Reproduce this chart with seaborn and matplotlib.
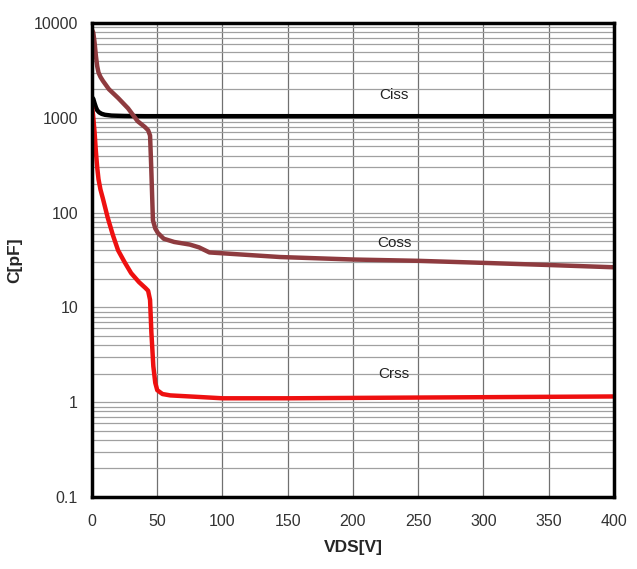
import numpy as np
import pandas as pd
import matplotlib
matplotlib.use("Agg")
import matplotlib.pyplot as plt
import seaborn as sns
from matplotlib.ticker import FixedLocator, NullFormatter, LogLocator

# Data
ciss_v = [0, 1, 2, 3, 4, 5.5, 7.5, 10, 15, 25, 40, 60, 100, 200, 300, 400]
ciss_c = [1650, 1580, 1420, 1290, 1200, 1140, 1100, 1075, 1055, 1045, 1040, 1040, 1040, 1040, 1040, 1040]

coss_v = [0, 1, 2, 3, 4, 5, 6.5, 8.4, 13, 20, 27.6, 35, 40.5, 43, 44.5, 45.4, 46.7, 48.5, 50.5, 55, 63, 75, 82, 90, 144, 200, 250, 300, 350, 400]
coss_c = [8500, 7900, 6200, 4500, 3500, 3000, 2700, 2450, 2000, 1620, 1260, 920, 800, 740, 650, 300, 83, 68, 61, 53, 49, 46, 43, 38, 34, 32, 31, 29.5, 28, 26.5]

crss_v = [0, 0.8, 2, 3, 4, 5, 6.5, 8.4, 12, 16, 20, 25, 30, 36, 41, 43, 44.5, 45.5, 47, 48.5, 50, 54, 60, 80, 100, 150, 200, 250, 300, 350, 400]
crss_c = [1300, 1080, 700, 440, 300, 225, 175, 140, 89, 58, 40, 30, 23, 18.5, 16, 15, 12, 5.5, 2.4, 1.6, 1.34, 1.22, 1.18, 1.14, 1.1, 1.1, 1.11, 1.12, 1.13, 1.14, 1.15]

x_ticks = [0, 50, 100, 150, 200, 250, 300, 350, 400]
y_ticks = [0.1, 1, 10, 100, 1000, 10000]
y_labels = ["0.1", "1", "10", "100", "1000", "10000"]

df = pd.concat([
    pd.DataFrame({"VDS": ciss_v, "C": ciss_c, "s": "Ciss"}),
    pd.DataFrame({"VDS": coss_v, "C": coss_c, "s": "Coss"}),
    pd.DataFrame({"VDS": crss_v, "C": crss_c, "s": "Crss"}),
])

sns.set_style("white")
plt.rcParams["font.family"] = ["Liberation Sans", "DejaVu Sans"]

fig = plt.figure(figsize=(6.37, 5.69), dpi=100)
ax = fig.add_axes([0.1444, 0.1265, 0.9639 - 0.1444, 0.9596 - 0.1265])

ax.set_yscale("log")
ax.set_xlim(0, 400)
ax.set_ylim(0.1, 10000)

# grid
ax.yaxis.set_minor_locator(LogLocator(base=10, subs=np.arange(2, 10)))
ax.yaxis.set_minor_formatter(NullFormatter())
ax.grid(True, which="minor", axis="y", color="#a0a0a0", lw=0.9)
ax.grid(True, which="major", axis="y", color="#a0a0a0", lw=0.9)
ax.grid(True, which="major", axis="x", color="#707070", lw=0.9)
ax.set_axisbelow(True)

palette = {"Ciss": "#000000", "Coss": "#8e3b3f", "Crss": "#ee1010"}
sns.lineplot(data=df, x="VDS", y="C", hue="s", palette=palette, lw=3.2,
             legend=False, ax=ax, sort=False, estimator=None)
for ln in ax.lines:
    ln.set_solid_joinstyle("round")
    ln.set_solid_capstyle("round")

ax.set_xticks(x_ticks)
ax.set_xticklabels([str(t) for t in x_ticks])
ax.yaxis.set_major_locator(FixedLocator(y_ticks))
ax.set_yticklabels(y_labels)
ax.tick_params(axis="both", which="both", length=0, labelsize=11.5, colors="#333333")
ax.tick_params(axis="x", pad=12)
ax.tick_params(axis="y", pad=10)

for sp in ax.spines.values():
    sp.set_visible(True)
    sp.set_color("black")
    sp.set_linewidth(2.5)

ax.set_xlabel("VDS[V]", fontsize=12.5, fontweight="bold", labelpad=8)
ax.set_ylabel("C[pF]", fontsize=12.5, fontweight="bold", labelpad=8)

ax.text(231, 1730, "Ciss", fontsize=11, color="#222222", ha="center", va="center")
ax.text(232, 47.5, "Coss", fontsize=11, color="#222222", ha="center", va="center")
ax.text(231, 1.97, "Crss", fontsize=11, color="#222222", ha="center", va="center")

fig.savefig("out.png", dpi=100, facecolor="white")
